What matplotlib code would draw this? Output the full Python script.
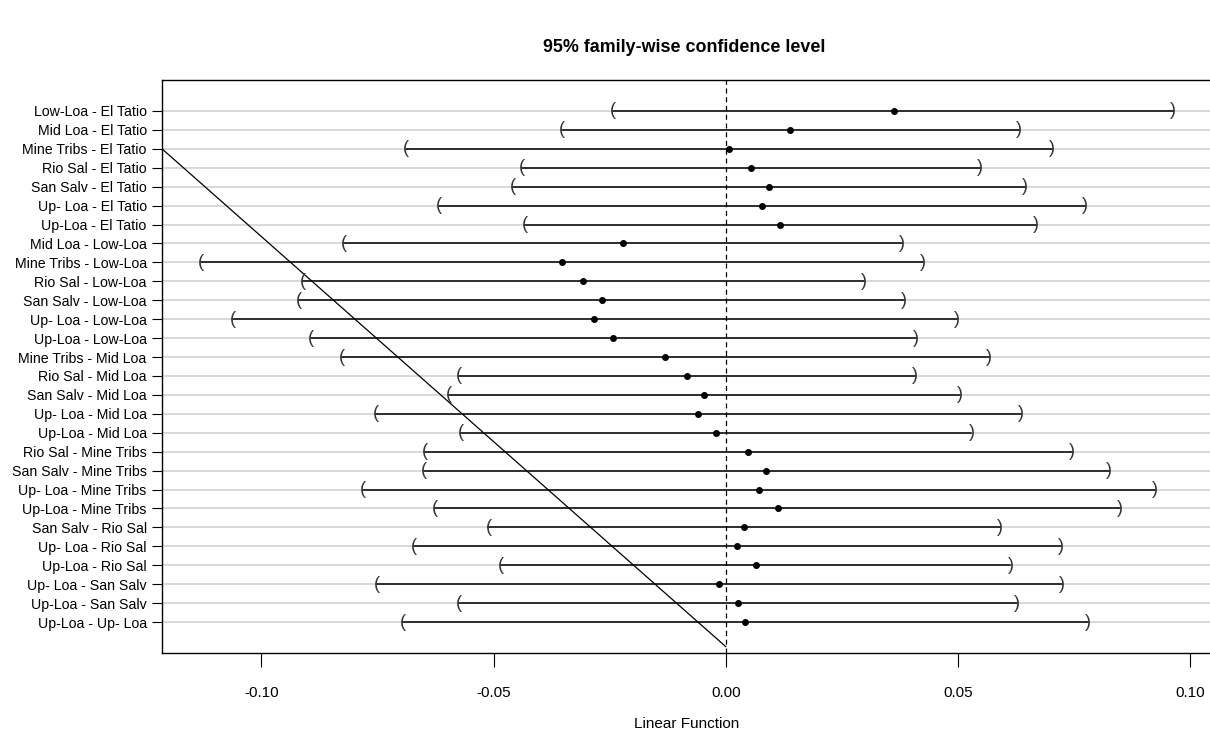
import numpy as np
import matplotlib
matplotlib.use("Agg")
import matplotlib.pyplot as plt

# comparisons, top to bottom
labels = [
    "Low-Loa - El Tatio", "Mid Loa - El Tatio", "Mine Tribs - El Tatio",
    "Rio Sal - El Tatio", "San Salv - El Tatio", "Up- Loa - El Tatio",
    "Up-Loa - El Tatio", "Mid Loa - Low-Loa", "Mine Tribs - Low-Loa",
    "Rio Sal - Low-Loa", "San Salv - Low-Loa", "Up- Loa - Low-Loa",
    "Up-Loa - Low-Loa", "Mine Tribs - Mid Loa", "Rio Sal - Mid Loa",
    "San Salv - Mid Loa", "Up- Loa - Mid Loa", "Up-Loa - Mid Loa",
    "Rio Sal - Mine Tribs", "San Salv - Mine Tribs", "Up- Loa - Mine Tribs",
    "Up-Loa - Mine Tribs", "San Salv - Rio Sal", "Up- Loa - Rio Sal",
    "Up-Loa - Rio Sal", "Up- Loa - San Salv", "Up-Loa - San Salv",
    "Up-Loa - Up- Loa",
]
estimate = [0.0362, 0.0138, 0.0007, 0.0054, 0.0093, 0.0078, 0.0117,
            -0.0221, -0.0352, -0.0308, -0.0267, -0.0284, -0.0243,
            -0.0131, -0.0083, -0.0047, -0.0060, -0.0021,
            0.0048, 0.0086, 0.0072, 0.0112, 0.0039, 0.0024, 0.0065,
            -0.0015, 0.0026, 0.0042]
lower = [-0.0243, -0.0352, -0.0689, -0.0439, -0.0458, -0.0618, -0.0432,
         -0.0822, -0.1130, -0.0910, -0.0919, -0.1061, -0.0893,
         -0.0827, -0.0575, -0.0596, -0.0754, -0.0571,
         -0.0648, -0.0650, -0.0782, -0.0627, -0.0511, -0.0671, -0.0485,
         -0.0751, -0.0575, -0.0695]
upper = [0.0963, 0.0631, 0.0703, 0.0548, 0.0644, 0.0774, 0.0667,
         0.0380, 0.0425, 0.0297, 0.0383, 0.0497, 0.0410,
         0.0566, 0.0407, 0.0504, 0.0636, 0.0529,
         0.0746, 0.0825, 0.0924, 0.0848, 0.0591, 0.0721, 0.0613,
         0.0724, 0.0627, 0.0780]

# stray diagonal line in the original
diag_x = [-0.1214, 0.0]
diag_y = [26, -0.3]

xticks = [-0.10, -0.05, 0.00, 0.05, 0.10]

plt.rcParams['font.family'] = ['Liberation Sans', 'DejaVu Sans']

n = len(labels)
ypos = np.arange(n, 0, -1)

fig = plt.figure(figsize=(12.1, 7.47), dpi=100)
ax = fig.add_axes([162 / 1210, 1 - 652.7 / 747, (1212 - 162) / 1210, (652.7 - 80.3) / 747])

# grid lines
for y in ypos:
    ax.axhline(y, color='#d6d6d6', lw=1.3, zorder=0)

ax.axvline(0, color='black', lw=0.9, ls=(0, (4, 3)), zorder=1)

for y, lo, hi, est in zip(ypos, lower, upper, estimate):
    ax.plot([lo, hi], [y, y], color='black', lw=1.1, zorder=2)
    ax.text(lo, y, "(", ha='center', va='center', fontsize=13, color='#333333', zorder=3)
    ax.text(hi, y, ")", ha='center', va='center', fontsize=13, color='#333333', zorder=3)
ax.plot(estimate, ypos, 'o', color='black', markersize=4, zorder=4)

ax.plot(diag_x, diag_y, color='black', lw=0.9, zorder=2)

ax.set_xlim(-0.1214, 0.1047)
ax.set_ylim(-0.62, n + 1.62)

ax.set_yticks(ypos)
ax.set_yticklabels(labels, fontsize=10.2)
ax.set_xticks(xticks)
ax.set_xticklabels([f"{t:.2f}" for t in xticks], fontsize=11)
ax.tick_params(axis='x', length=10, width=0.8, pad=14)
ax.tick_params(axis='y', length=7, width=0.8, pad=4)

for s in ax.spines.values():
    s.set_linewidth(1.0)

ax.set_xlabel("Linear Function", fontsize=11, labelpad=12)
fig.text(684 / 1210, 1 - 47 / 747, "95% family-wise confidence level",
         ha='center', va='center', fontsize=12.9, fontweight='bold')

fig.savefig("out.png", dpi=100)
